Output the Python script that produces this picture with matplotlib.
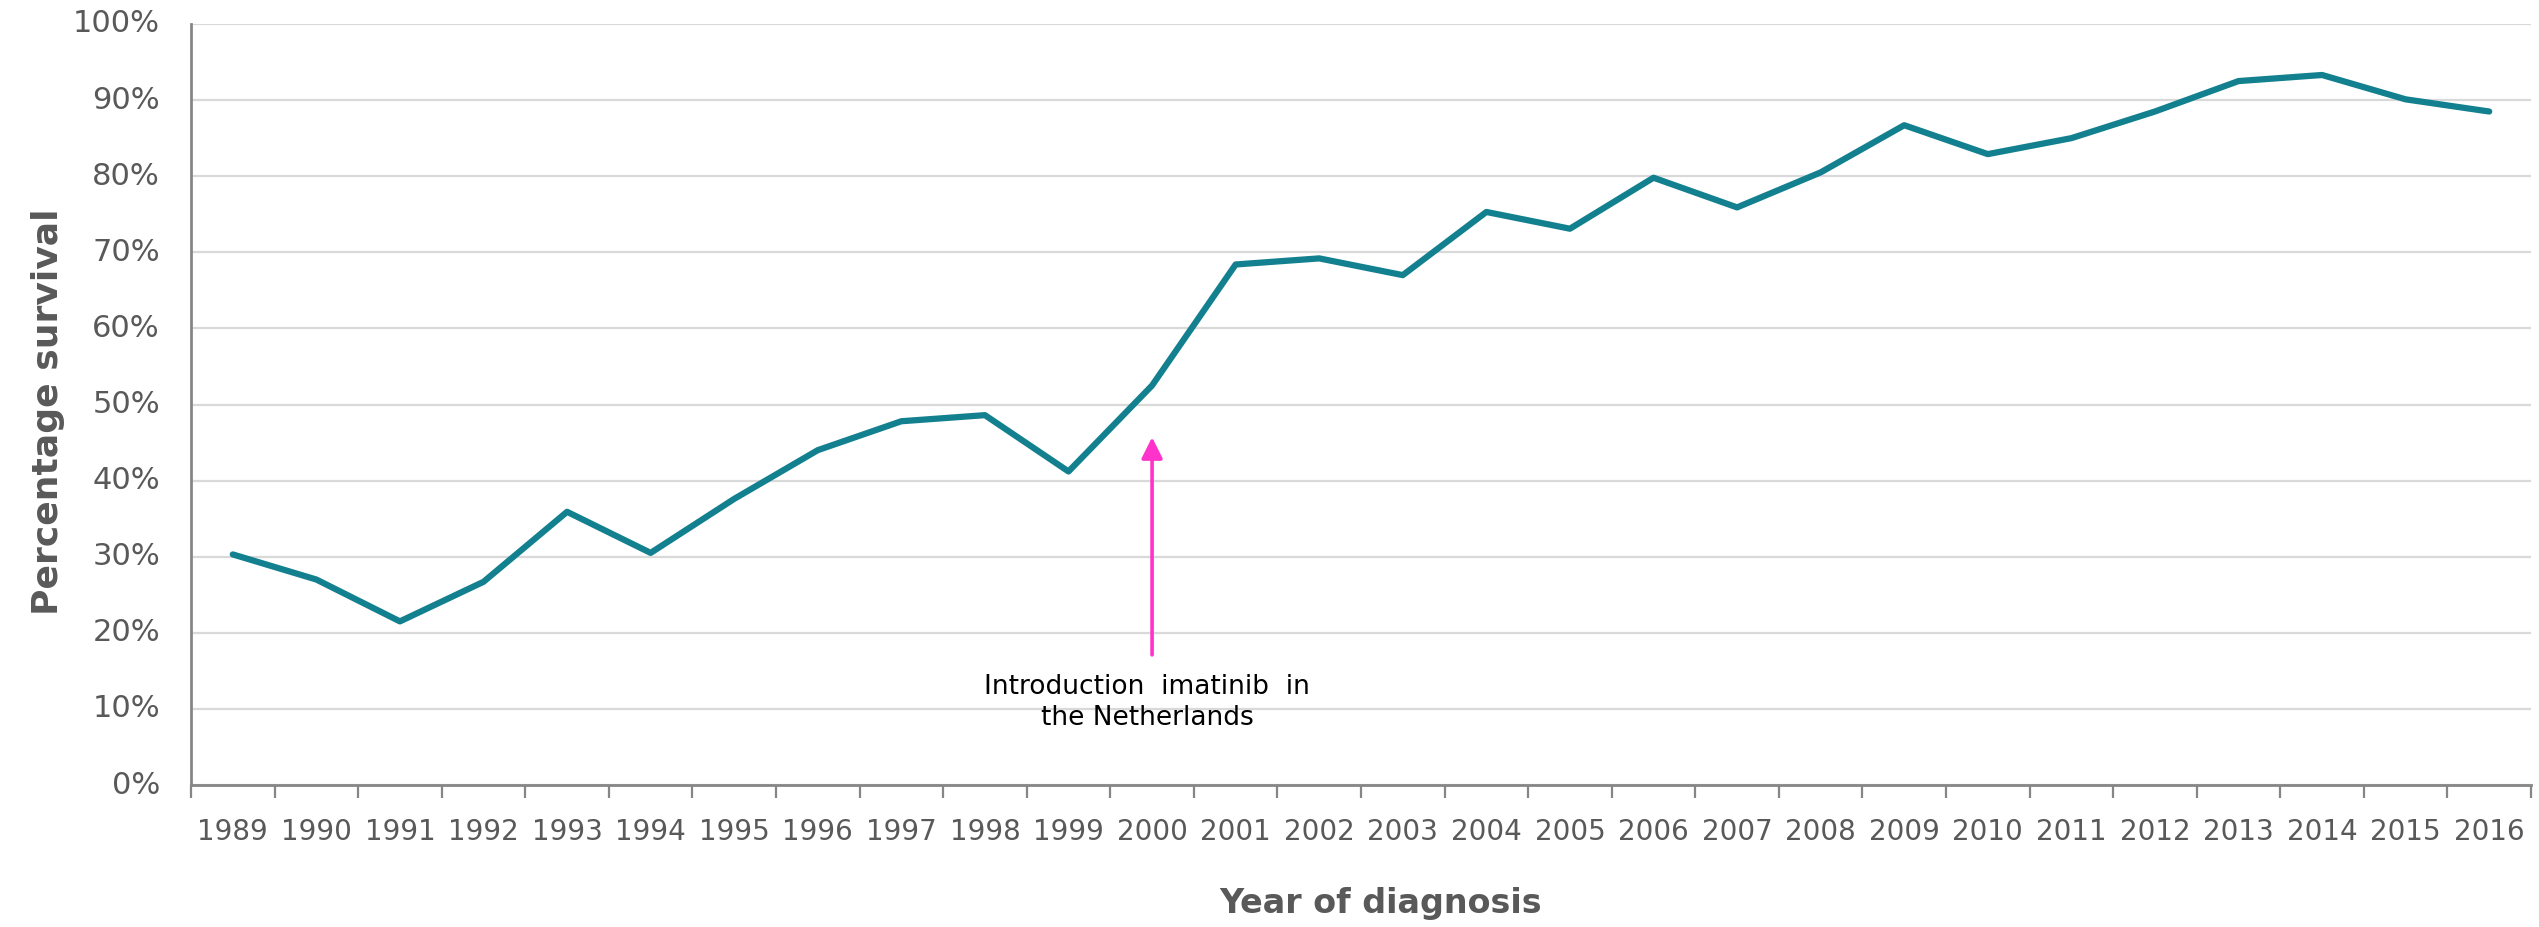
import numpy as np
import matplotlib
matplotlib.use("Agg")
import matplotlib.pyplot as plt
import matplotlib.transforms as mtransforms
from matplotlib.ticker import FixedLocator

# Relative survival by year of diagnosis (percent)
years = [1989, 1990, 1991, 1992, 1993, 1994, 1995, 1996, 1997, 1998,
         1999, 2000, 2001, 2002, 2003, 2004, 2005, 2006, 2007, 2008,
         2009, 2010, 2011, 2012, 2013, 2014, 2015, 2016]
survival = [30.3, 27.0, 21.5, 26.7, 35.9, 30.5, 37.6, 44.0, 47.8, 48.6,
            41.2, 52.5, 68.4, 69.2, 67.0, 75.3, 73.1, 79.8, 75.9, 80.5,
            86.7, 82.9, 85.0, 88.5, 92.5, 93.3, 90.1, 88.5]
y_ticks = [0, 10, 20, 30, 40, 50, 60, 70, 80, 90, 100]

# Annotation: arrow tip / tail values and the year it points at
event_year = 2000
arrow_tip = 45.7
arrow_tail = 17.1
event_text = "Introduction  imatinib  in\nthe Netherlands"

line_color = "#13808F"
text_gray = "#595959"
axis_gray = "#868686"
grid_gray = "#D9D9D9"
arrow_color = "#FF33CC"

W, H, DPI = 2539, 927, 100
fig = plt.figure(figsize=(W / DPI, H / DPI), dpi=DPI)
ax = fig.add_axes([191 / W, 1 - 785 / H, (2531 - 191) / W, (785 - 24) / H])

x = np.arange(len(years))
ax.plot(x, survival, color=line_color, lw=4.5, solid_joinstyle="round",
        solid_capstyle="round", zorder=3)

ax.set_xlim(-0.5, len(years) - 0.5)
ax.set_ylim(0, 100)

# y axis: gridlines at each tick, percentage labels set just left of the spine
ax.set_yticks(y_ticks)
ax.tick_params(axis="y", length=0, labelleft=False)
ax.grid(axis="y", color=grid_gray, lw=1.6, zorder=0)
ax.set_axisbelow(True)
label_shift = mtransforms.ScaledTranslation(-31 / DPI, 0, fig.dpi_scale_trans)
ylab_trans = ax.get_yaxis_transform() + label_shift
for v in y_ticks:
    ax.text(0, v, f"{v}%", transform=ylab_trans, ha="right", va="center",
            fontsize=22, color=text_gray)

# x axis: labels centred on categories, tick marks between categories
ax.set_xticks(x)
ax.set_xticklabels([str(y) for y in years])
ax.xaxis.set_minor_locator(FixedLocator(np.arange(-0.5, len(years), 1.0)))
ax.tick_params(axis="x", which="major", length=0, pad=24, labelsize=20,
               labelcolor=text_gray)
ax.tick_params(axis="x", which="minor", length=9, width=1.6, color=axis_gray)

for side in ("top", "right"):
    ax.spines[side].set_visible(False)
for side in ("left", "bottom"):
    ax.spines[side].set_color(axis_gray)
    ax.spines[side].set_linewidth(2)

# Axis titles
fig.text(48 / W, 1 - 412 / H, "Percentage survival", rotation=90,
         ha="center", va="center", fontsize=26, fontweight="bold",
         color=text_gray)
fig.text(1381 / W, 1 - 903 / H, "Year of diagnosis", ha="center",
         va="center", fontsize=24, fontweight="bold", color=text_gray)

# Event annotation
xi = years.index(event_year)
ax.annotate("", xy=(xi, arrow_tip), xytext=(xi, arrow_tail),
            arrowprops=dict(arrowstyle="-|>", color=arrow_color, lw=2.6,
                            mutation_scale=32, shrinkA=0, shrinkB=0),
            zorder=4)
ax.text(xi - 0.06, 10.8, event_text, ha="center", va="center",
        fontsize=19, color="black", linespacing=1.25, zorder=4)

fig.savefig("out.png", dpi=DPI)
